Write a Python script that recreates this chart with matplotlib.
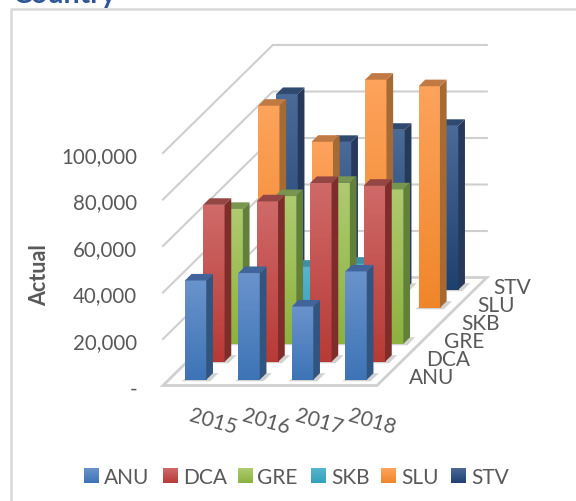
import numpy as np
import matplotlib
matplotlib.use("Agg")
import matplotlib.pyplot as plt
from matplotlib.patches import Polygon
from matplotlib.colors import to_rgb

plt.rcParams["font.family"] = ["Lato", "DejaVu Sans"]

years = ["2015", "2016", "2017", "2018"]
series = ["ANU", "DCA", "GRE", "SKB", "SLU", "STV"]
anu = [42700, 45900, 31500, 46600]
dca = [67500, 69000, 76900, 75700]
gre = [58000, 63500, 69200, 66400]
skb = [20000, 25400, 26700, 0]
slu = [86900, 71400, 98100, 95300]
stv = [84200, 63600, 68800, 70500]
values = [anu, dca, gre, skb, slu, stv]
y_ticks = [0, 20000, 40000, 60000, 80000, 100000]
y_labels = ["-", "20,000", "40,000", "60,000", "80,000", "100,000"]

# face colours per series
top_cols = ["#6a93cc", "#cf6a68", "#aecb70", "#58b5ce", "#fda35c", "#4a6a98"]
bot_cols = ["#3d74b6", "#b83a36", "#8cb23f", "#33a0bc", "#f0862a", "#1f4170"]
side_cols = ["#32557f", "#7f2d2b", "#62803a", "#2f7a8e", "#a66a35", "#26395a"]
lid_cols = ["#41659a", "#944644", "#77954f", "#3f8fa4", "#c27a45", "#2f4a6e"]

text_col = "#595959"
grid_col = "#cfcfcf"

# oblique projection: x = year slot, d = series slot, v = value
X0, Y0 = 163, 386.5
SLOT_W = 53.5
DEPTH_X, DEPTH_Y = 18.3, 18
PX_PER_UNIT = 46.5 / 20000


def proj(x, d, v):
    return (X0 + x * SLOT_W + d * DEPTH_X, Y0 - d * DEPTH_Y - v * PX_PER_UNIT)


def vgrad(c0, c1, n=64):
    g = np.linspace(0, 1, n)[:, None, None]
    return (1 - g) * np.array(to_rgb(c0))[None, None, :] + g * np.array(to_rgb(c1))[None, None, :]


fig = plt.figure(figsize=(5.76, 5.02), dpi=100)
ax = fig.add_axes([0, 0, 1, 1])
ax.set_xlim(0, 576)
ax.set_ylim(502, 0)
ax.axis("off")

# chart frame + cut off title
ax.plot([11, 11, 576], [502, 10, 10], color="#d9d9d9", lw=1.8, zorder=1)
ax.text(13, 3, "Country", color="#2f5597", fontsize=20.5, fontweight="bold", va="baseline")

# walls
for t in y_ticks[1:]:
    line = [proj(0, 0, t), proj(0, 6, t), proj(4, 6, t)]
    ax.plot(*zip(*line), color=grid_col, lw=1.5, zorder=1, solid_joinstyle="miter")
floor = [proj(0, 0, 0), proj(4, 0, 0), proj(4, 6, 0), proj(0, 6, 0)]
ax.add_patch(Polygon(floor, closed=True, fc="white", ec="#d0d0d0", lw=2, zorder=1))

# bars, back to front
z = 2
BAR_W = 0.4
BAR_D = 0.366
for d in range(5, -1, -1):
    for i in range(4):
        v = values[d][i]
        if v == 0:
            continue
        x0 = i + (1 - BAR_W) / 2
        x1 = x0 + BAR_W
        d0 = d + (1 - BAR_D) / 2
        d1 = d0 + BAR_D

        # soft shadow on the floor
        shadow = [proj(x0 - 0.03, d0 - 0.08, 0), proj(x1 + 0.1, d0 - 0.08, 0),
                  proj(x1 + 0.1, d1, 0), proj(x0, d1, 0)]
        ax.add_patch(Polygon(shadow, closed=True, fc="#000000", alpha=0.18, ec="none", zorder=z))
        z += 1

        front = [proj(x0, d0, 0), proj(x1, d0, 0), proj(x1, d0, v), proj(x0, d0, v)]
        side = [proj(x1, d0, 0), proj(x1, d1, 0), proj(x1, d1, v), proj(x1, d0, v)]
        top = [proj(x0, d0, v), proj(x1, d0, v), proj(x1, d1, v), proj(x0, d1, v)]

        ax.imshow(vgrad(top_cols[d], bot_cols[d]),
                  extent=[front[0][0], front[1][0], front[0][1], front[2][1]],
                  aspect="auto", zorder=z, interpolation="bilinear")
        z += 1

        ax.add_patch(Polygon(side, closed=True, fc=side_cols[d], ec="none", zorder=z))
        z += 1
        ax.add_patch(Polygon(top, closed=True, fc=lid_cols[d], ec="none", zorder=z))
        z += 1

# value labels
for t, lab in zip(y_ticks, y_labels):
    ax.text(137, proj(0, 0, t)[1] + 9, lab, ha="right", va="baseline", color=text_col, fontsize=14.8)
ax.text(40, 275, "Actual", rotation=90, ha="center", va="center", color=text_col, fontsize=15.5, fontweight="bold")

# year labels
for i, y in enumerate(years):
    ax.text(proj(i + 0.5, 0, 0)[0] + 23.5 - i * 0.5, 421.5, y, rotation=-16, ha="center", va="center",
            color=text_col, fontsize=15, rotation_mode="anchor")

# series labels
for d, s in enumerate(series):
    ax.text(431.5 + d * 16.2, 384 - d * 18, s, ha="center", va="baseline", color=text_col, fontsize=15)

# legend
leg_box = [84, 163, 238, 311, 381, 451]
leg_txt = [104, 183, 257, 331, 401, 471]
for s, bx, tx, c0, c1 in zip(series, leg_box, leg_txt, top_cols, bot_cols):
    ax.imshow(vgrad(c0, c1, 32), extent=[bx, bx + 15, 484.5, 470], aspect="auto", zorder=5)
    ax.text(tx, 484, s, ha="left", va="baseline", color=text_col, fontsize=15)

ax.set_xlim(0, 576)
ax.set_ylim(502, 0)
fig.savefig("out.png", dpi=100)
